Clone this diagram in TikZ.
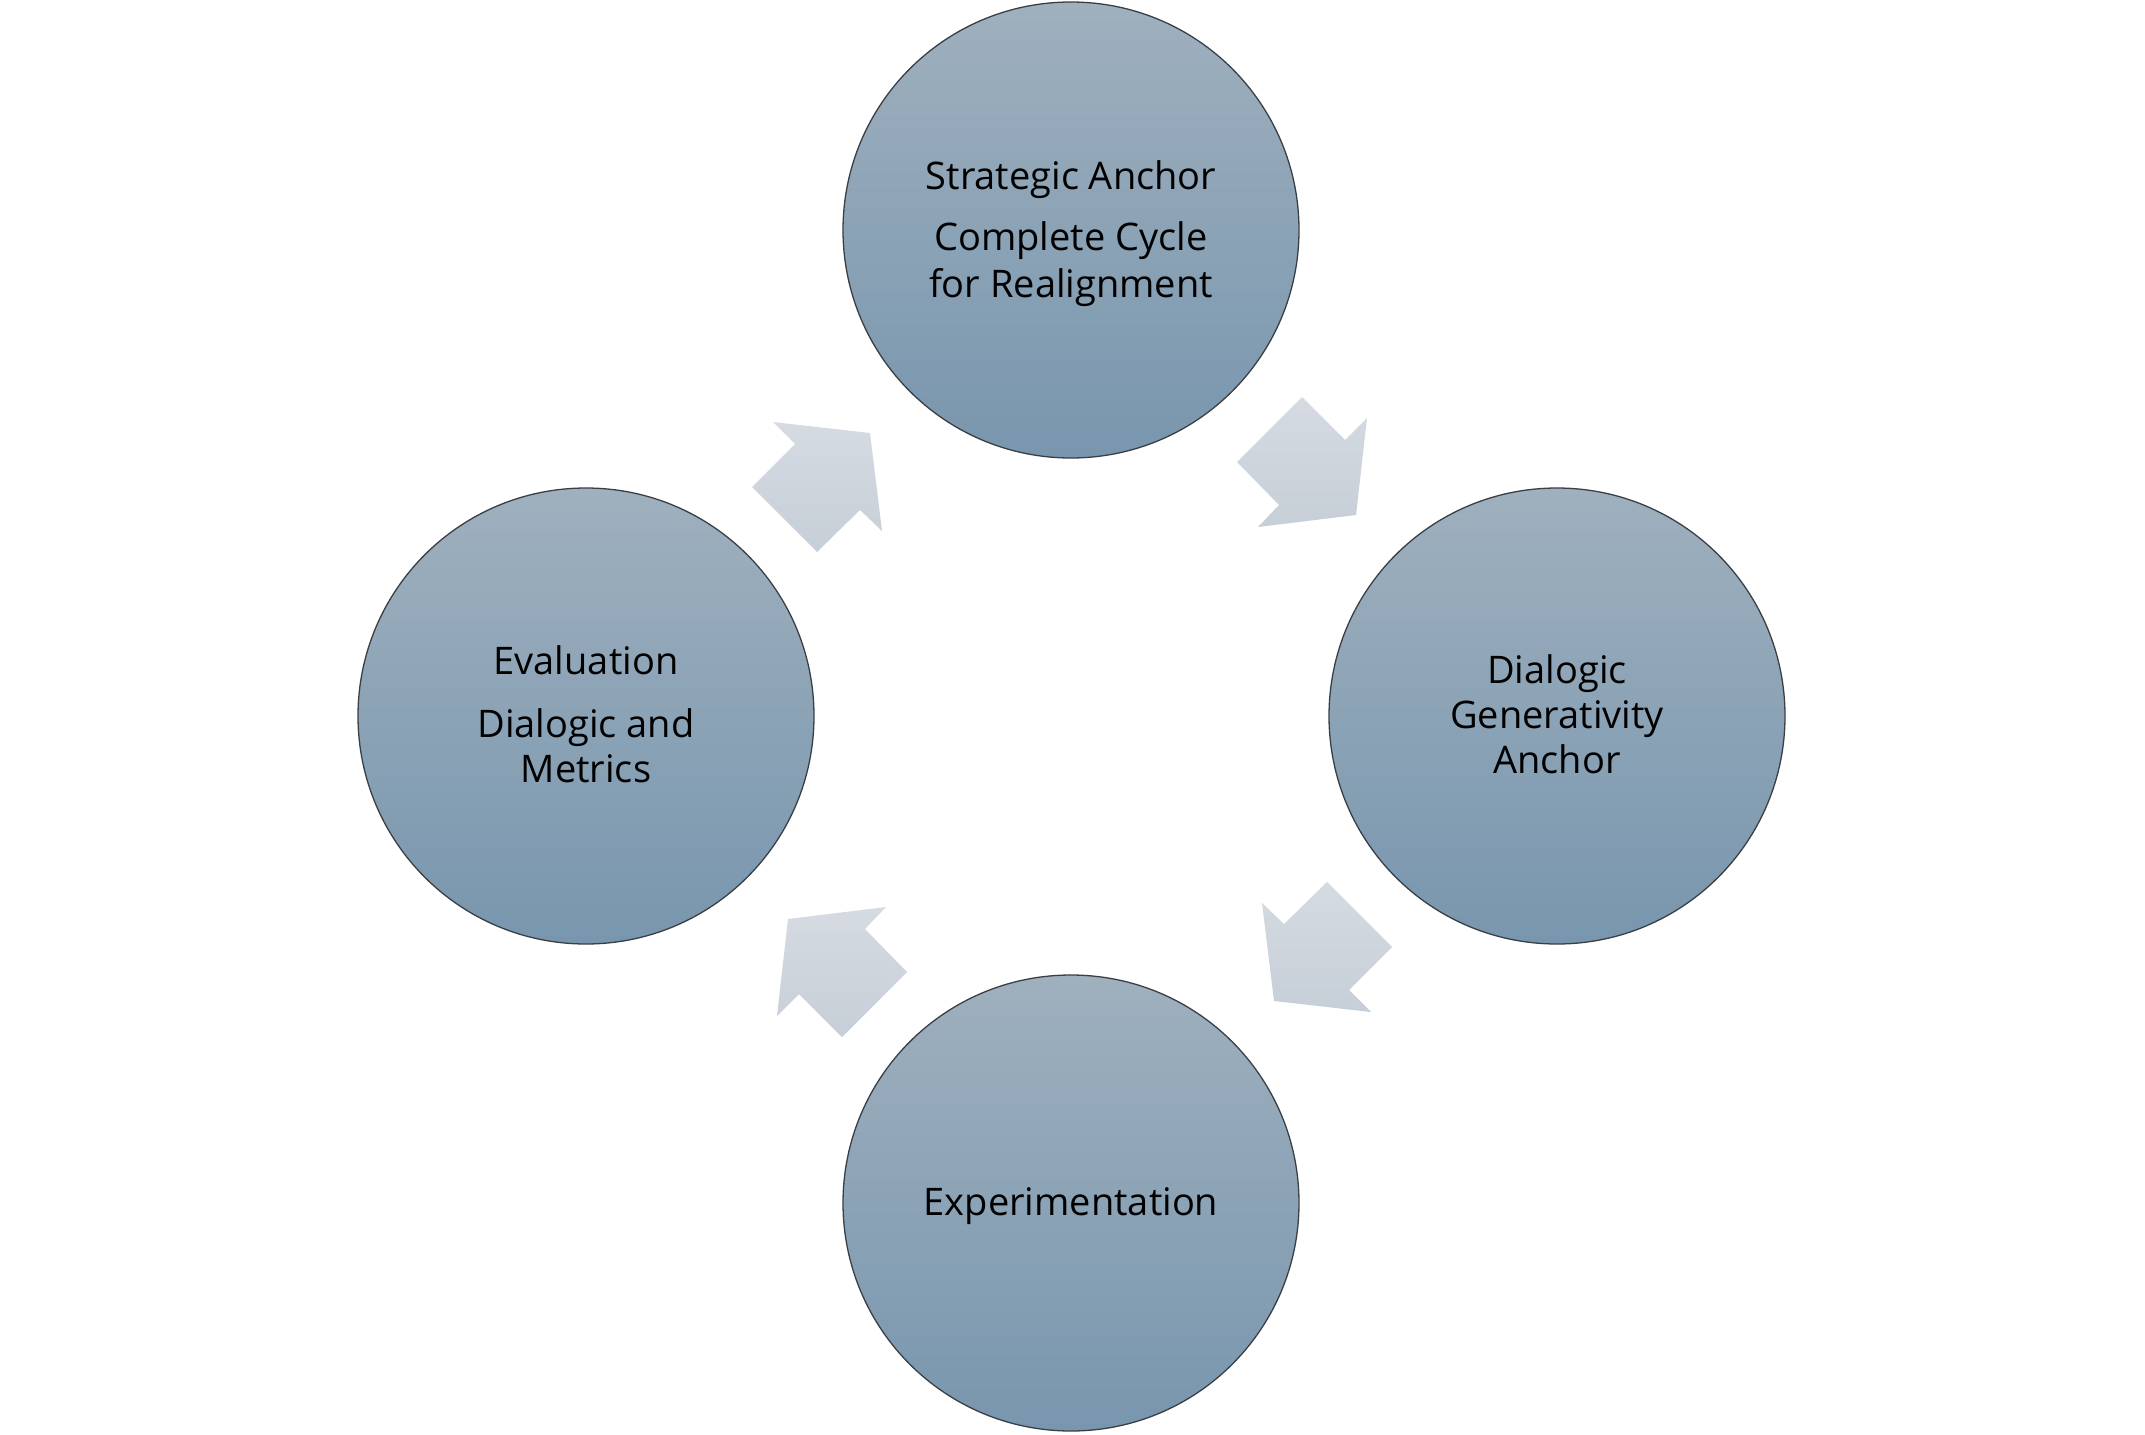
\documentclass[tikz,border=0pt]{standalone}
\usepackage{fontspec}
\setmainfont{Open Sans}
\usetikzlibrary{calc}
\definecolor{circtop}{HTML}{9FB0BE}
\definecolor{circbot}{HTML}{7896AE}
\definecolor{arrtop}{HTML}{D6DBE2}
\definecolor{arrbot}{HTML}{C6CED7}
\definecolor{circline}{HTML}{3A3F45}
\tikzset{
  stage/.style={circle, minimum size=456pt, inner sep=0pt, draw=circline, line width=1.3pt,
    top color=circtop, bottom color=circbot},
  lbl/.style={anchor=base, inner sep=0pt, text=black, font=\fontsize{38}{44}\selectfont},
  arrowshade/.style={top color=arrtop, bottom color=arrbot, draw=none},
}
\begin{document}
\begin{tikzpicture}[x=1pt,y=-1pt]
\useasboundingbox (0,0) rectangle (2145,1435);
\fill[white] (0,0) rectangle (2145,1435);
% arrows
\path[arrowshade] (1237,462) -- (1302,397) -- (1345,440) -- (1367,418) -- (1356,515) -- (1258,527) -- (1279,505) -- cycle;
\path[arrowshade] (1327,882) -- (1392,947) -- (1349,990) -- (1371,1012) -- (1274,1001) -- (1262,903) -- (1284,924) -- cycle;
\path[arrowshade] (907,972) -- (842,1037) -- (799,994) -- (777,1016) -- (788,919) -- (886,907) -- (865,929) -- cycle;
\path[arrowshade] (817,552) -- (752,487) -- (795,444) -- (773,422) -- (870,433) -- (882,531) -- (860,510) -- cycle;
% circles
\node[stage] (ctop) at (1071,230) {};
\node[stage] (cright) at (1557,716) {};
\node[stage] (cbottom) at (1071,1203) {};
\node[stage] (cleft) at (586,716) {};
% labels
\node[lbl] (t1a) at ($(ctop.center)+(0,-41)$) {Strategic Anchor};
\node[lbl] (t1b) at ($(ctop.center)+(0,20)$) {Complete Cycle};
\node[lbl] (t1c) at ($(ctop.center)+(0,67)$) {for Realignment};
\node[lbl] (t2a) at ($(cright.center)+(0,-33)$) {Dialogic};
\node[lbl] (t2b) at ($(cright.center)+(0,12)$) {Generativity};
\node[lbl] (t2c) at ($(cright.center)+(0,57)$) {Anchor};
\node[lbl] (t3a) at ($(cbottom.center)+(0,12)$) {Experimentation};
\node[lbl] (t4a) at ($(cleft.center)+(0,-42)$) {Evaluation};
\node[lbl] (t4b) at ($(cleft.center)+(0,21)$) {Dialogic and};
\node[lbl] (t4c) at ($(cleft.center)+(0,66)$) {Metrics};
\end{tikzpicture}
\end{document}
